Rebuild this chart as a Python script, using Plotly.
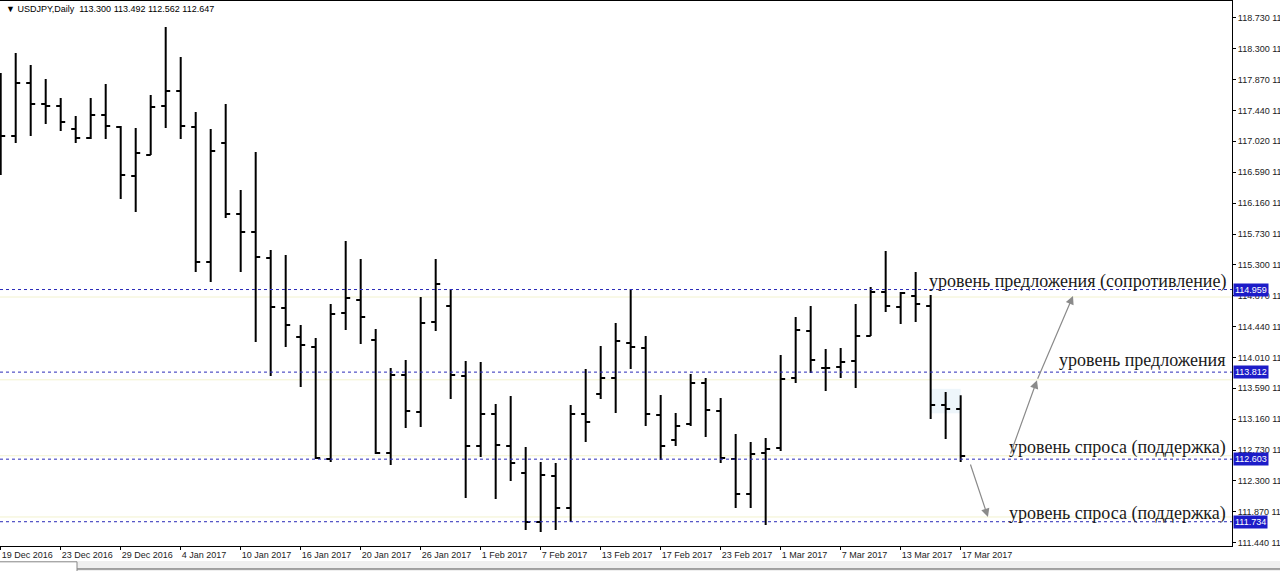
import plotly.graph_objects as go

# ---- data (USDJPY daily) ----
opens = [117.452, 117.091, 117.827, 117.536, 117.508, 117.188, 117.063, 117.383, 117.216, 116.536,
         116.827, 117.508, 117.716, 117.216, 115.341, 116.994, 116.008, 115.758, 115.397, 114.702,
         114.299, 114.161, 112.605, 114.633, 114.813, 114.258, 112.688, 113.772, 113.258, 114.508,
         114.730, 113.758, 112.786, 113.230, 112.786, 112.411, 111.730, 112.369, 111.924, 113.230,
         113.508, 113.730, 114.216, 114.147, 113.216, 112.869, 113.091, 113.661, 113.272, 112.605,
         112.119, 112.688, 112.758, 113.730, 114.383, 113.869, 113.883, 113.966, 114.313, 114.924,
         114.716, 114.869, 114.730, 113.355, 113.300]
highs = [117.966, 118.244, 118.077, 117.883, 117.619, 117.369, 117.619, 117.813, 117.230, 117.202,
         117.661, 118.605, 118.188, 117.424, 117.188, 117.536, 116.341, 116.869, 115.508, 115.438,
         114.466, 114.286, 114.758, 115.633, 115.383, 114.411, 113.869, 113.980, 114.855, 115.383,
         114.966, 113.966, 113.952, 113.369, 113.480, 112.772, 112.563, 112.549, 113.355, 113.855,
         114.174, 114.494, 114.966, 114.313, 113.494, 113.244, 113.786, 113.730, 113.452, 112.952,
         112.841, 112.897, 114.049, 114.577, 114.730, 114.133, 114.147, 114.758, 114.994, 115.494,
         114.924, 115.202, 114.883, 113.536, 113.492]
lows = [116.549, 116.994, 117.091, 117.258, 117.161, 116.994, 117.049, 117.049, 116.216, 116.036,
        116.827, 117.202, 117.049, 115.202, 115.063, 115.952, 115.202, 114.230, 113.758, 114.161,
        113.605, 112.605, 112.563, 114.397, 114.202, 112.674, 112.522, 113.036, 113.049, 114.383,
        113.438, 112.063, 112.633, 112.049, 112.299, 111.619, 111.591, 111.619, 111.730, 112.841,
        113.438, 113.244, 113.855, 113.063, 112.591, 112.786, 113.063, 112.911, 112.549, 111.924,
        111.924, 111.688, 112.716, 113.661, 113.799, 113.549, 113.730, 113.591, 114.313, 114.647,
        114.480, 114.508, 113.161, 112.883, 112.562]
closes = [117.091, 117.827, 117.536, 117.508, 117.286, 117.063, 117.383, 117.230, 116.549, 116.855,
          117.494, 117.716, 117.230, 115.341, 116.883, 116.008, 115.758, 115.411, 114.716, 114.466,
          114.188, 112.619, 114.619, 114.841, 114.577, 112.688, 113.772, 113.272, 114.494, 115.036,
          113.772, 112.786, 113.230, 112.799, 112.549, 111.730, 112.383, 111.924, 113.230, 113.119,
          113.730, 114.244, 114.161, 113.230, 112.786, 113.063, 113.661, 113.286, 112.619, 112.119,
          112.674, 112.744, 113.716, 114.397, 113.980, 113.869, 113.952, 114.313, 114.924, 114.730,
          114.911, 114.758, 113.355, 113.299, 112.647]

date_tick_bars = [0, 4, 8, 12, 16, 20, 24, 28, 32, 36, 40, 44, 48, 52, 56, 60, 64]
date_tick_labels = ["19 Dec 2016", "23 Dec 2016", "29 Dec 2016", "4 Jan 2017", "10 Jan 2017",
                    "16 Jan 2017", "20 Jan 2017", "26 Jan 2017", "1 Feb 2017", "7 Feb 2017",
                    "13 Feb 2017", "17 Feb 2017", "23 Feb 2017", "1 Mar 2017", "7 Mar 2017",
                    "13 Mar 2017", "17 Mar 2017"]

price_ticks = [111.440, 111.870, 112.300, 112.730, 113.160, 113.590, 114.010, 114.440, 114.870,
               115.300, 115.730, 116.160, 116.590, 117.020, 117.440, 117.870, 118.300, 118.730]

levels = [114.959, 113.812, 112.603, 111.734]
level_label_y = [115.077, 113.980, 112.765, 111.848]
level_texts = ["уровень предложения (сопротивление)", "уровень предложения",
               "уровень спроса (поддержка)", "уровень спроса (поддержка)"]

title_text = "▼ USDJPY,Daily  113.300 113.492 112.562 112.647"

# arrows: (head_x, head_y, tail_x, tail_y) in bar index / price
arrows = [
    (69.09, 113.70, 67.29, 112.66),
    (71.49, 114.87, 69.09, 113.70),
    (65.82, 111.80, 64.62, 112.55),
]

# ---- figure ----
bars = list(range(len(opens)))
fig = go.Figure()
fig.add_trace(go.Ohlc(
    x=bars, open=opens, high=highs, low=lows, close=closes,
    increasing=dict(line=dict(color="#000000", width=2)),
    decreasing=dict(line=dict(color="#000000", width=2)),
    tickwidth=0.3, hoverinfo="skip",
))

shapes = []
# pale yellow companion lines near levels
for yv in [114.855, 113.705, 112.650, 111.800]:
    shapes.append(dict(type="line", xref="paper", x0=0, x1=1, yref="y", y0=yv, y1=yv,
                       line=dict(color="#f2f2cf", width=1), layer="below"))
# pale blue highlight near the last bars
shapes.append(dict(type="rect", xref="x", x0=61.95, x1=64.0, yref="y", y0=113.24, y1=113.58,
                   fillcolor="#eef6fb", line=dict(width=0), layer="below"))
# dashed level lines
for lv in levels:
    shapes.append(dict(type="line", xref="paper", x0=0, x1=1, yref="y", y0=lv, y1=lv,
                       line=dict(color="#2a2ab8", width=1, dash="dot"), layer="above"))
# bottom tab strip
shapes.append(dict(type="rect", xref="paper", x0=-0.01, x1=1.05, yref="paper", y0=-0.0275, y1=-0.05,
                   fillcolor="#efefef", line=dict(width=0)))
shapes.append(dict(type="line", xref="paper", x0=0.0625, x1=1.05, yref="paper", y0=-0.0422, y1=-0.0422,
                   line=dict(color="#555555", width=1)))
shapes.append(dict(type="rect", xref="paper", x0=-0.002, x1=0.0625, yref="paper", y0=-0.029, y1=-0.05,
                   fillcolor="#ffffff", line=dict(color="#888888", width=1)))

annotations = []
annotations.append(dict(xref="paper", yref="paper", x=0.003, y=0.9985, xanchor="left", yanchor="top",
                        text=title_text, showarrow=False,
                        font=dict(family="Liberation Sans", size=9, color="#000000")))
for txt, yv in zip(level_texts, level_label_y):
    annotations.append(dict(xref="paper", yref="y", x=0.9968, y=yv, xanchor="right", yanchor="middle",
                            text=txt, showarrow=False,
                            font=dict(family="Liberation Serif", size=18, color="#1a1a1a")))
for lv in levels:
    annotations.append(dict(xref="paper", yref="y", x=1, y=lv, xanchor="left", yanchor="middle",
                            xshift=1, text=f"{lv:.3f}", showarrow=False, bgcolor="#1c1cc8",
                            borderpad=1, font=dict(family="Liberation Sans", size=9, color="#ffffff")))
for hx, hy, tx, ty in arrows:
    annotations.append(dict(xref="x", yref="y", x=hx, y=hy, axref="x", ayref="y", ax=tx, ay=ty,
                            text="", showarrow=True, arrowhead=2, arrowsize=1.4, arrowwidth=1.2,
                            arrowcolor="#8a8a8a"))
# arrow head peeking in at the top edge
annotations.append(dict(xref="x", yref="y", x=65.62, y=118.93, ax=0, ay=-25, text="", showarrow=True,
                        arrowhead=2, arrowsize=1.4, arrowwidth=1.2, arrowcolor="#8a8a8a"))

fig.update_layout(
    width=1280, height=571,
    margin=dict(l=0, r=48, t=1, b=25, autoexpand=False),
    paper_bgcolor="#ffffff", plot_bgcolor="#ffffff",
    showlegend=False,
    shapes=shapes, annotations=annotations,
    xaxis=dict(range=[-0.047, 82.09], tickvals=date_tick_bars, ticktext=date_tick_labels,
               ticks="outside", ticklen=3, tickcolor="#000000", ticklabelposition="outside right",
               tickangle=0, automargin=False,
               showgrid=False, zeroline=False, showline=True, linecolor="#000000", linewidth=1,
               mirror=True, rangeslider=dict(visible=False),
               tickfont=dict(family="Liberation Sans", size=9, color="#222222")),
    yaxis=dict(side="right", range=[111.397, 118.966], tickvals=price_ticks,
               ticktext=[f"{v:.3f} {v:.3f}" for v in price_ticks],
               ticks="outside", ticklen=3, tickcolor="#000000", automargin=False,
               showgrid=False, zeroline=False, showline=True, linecolor="#000000", linewidth=1,
               tickfont=dict(family="Liberation Sans", size=9, color="#222222")),
)

fig.write_html("out.html", config={"displayModeBar": False},
               post_script="document.body.style.margin='0';document.body.style.overflow='hidden';")
